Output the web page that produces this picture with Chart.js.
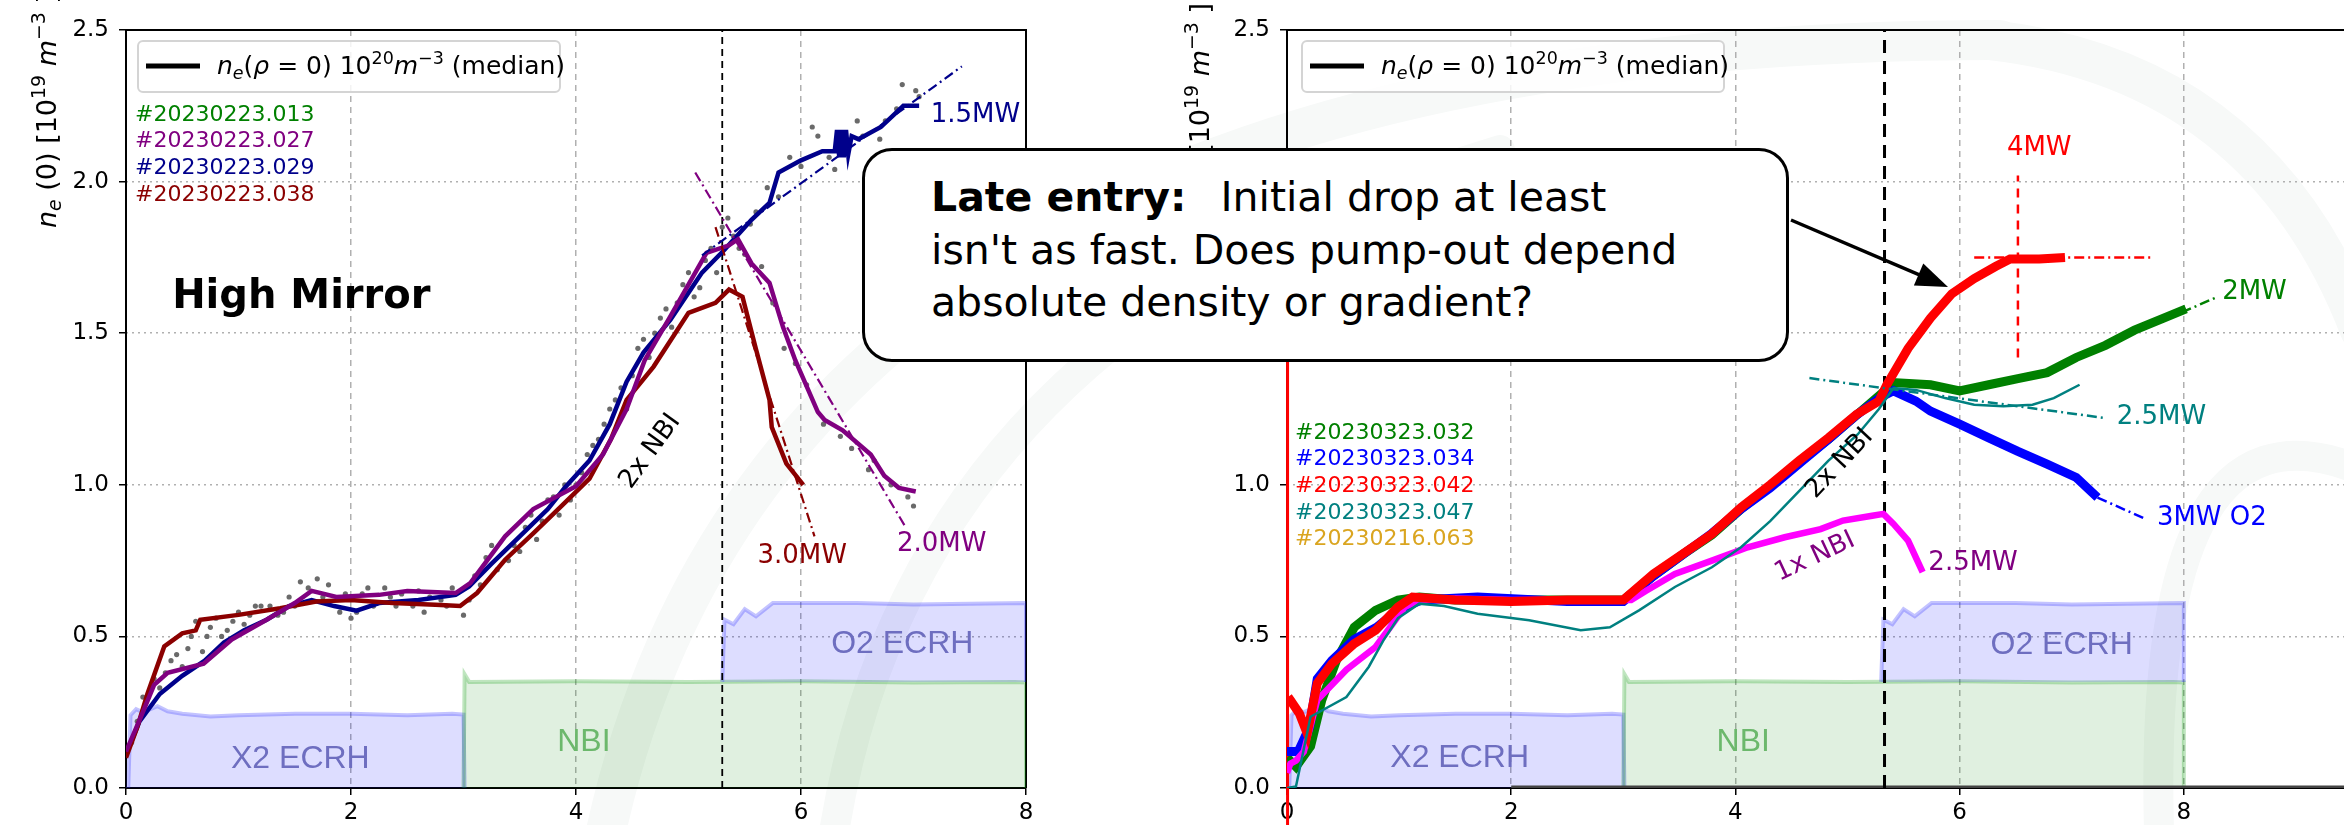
<!DOCTYPE html>
<html>
<head>
<meta charset="utf-8">
<script src="https://cdn.jsdelivr.net/npm/chart.js@4.4.1/dist/chart.umd.min.js"></script>
<style>
  html, body { margin: 0; padding: 0; background: #fff; width: 2344px; height: 825px; overflow: hidden; position: relative; }
  canvas { position: absolute; top: 0; }
  #bg { left: 0; }
  #leftPanel { left: 0; }
  #rightPanel { left: 1140px; }
  #note {
    position: absolute; left: 862px; top: 148px; width: 927px; height: 214px; box-sizing: border-box;
    border: 3.5px solid #000; border-radius: 30px; background: #fff; z-index: 2;
    font: 41px "DejaVu Sans", sans-serif; line-height: 52.5px; color: #000;
    padding: 20px 0 0 66px; white-space: nowrap;
  }
  #note span { margin-left: 34px; }
</style>
</head>
<body>
<canvas id="bg" width="2344" height="825"></canvas>
<canvas id="leftPanel" width="1060" height="825"></canvas>
<canvas id="rightPanel" width="1222" height="825"></canvas>
<div id="note"><b>Late entry:</b><span>Initial drop at least</span><br>isn't as fast. Does pump-out depend<br>absolute density or gradient?</div>

<script>
// ---------- axes ----------
const xTicks = [0, 2, 4, 6, 8];
const yTicks = [0, 0.5, 1.0, 1.5, 2.0, 2.5];

// ---------- heating programme (same in both panels) ----------
const powerX2 = [[0, 0], [0.02, 0], [0.04, 0.24], [0.09, 0.26], [0.15, 0.25], [0.28, 0.27], [0.37, 0.253], [0.5, 0.245], [0.75, 0.236], [1.0, 0.24], [1.5, 0.245], [2.0, 0.245], [2.5, 0.24], [2.9, 0.245], [3.0, 0.242], [3.01, 0]];
const powerNbi = [[3.0, 0], [3.01, 0.375], [3.05, 0.35], [4.0, 0.352], [5.0, 0.35], [6.0, 0.352], [7.0, 0.348], [7.9, 0.35], [8.0, 0.348], [8.0, 0]];
const powerO2 = [[5.3, 0.35], [5.32, 0.555], [5.4, 0.54], [5.5, 0.59], [5.6, 0.566], [5.75, 0.61], [6.5, 0.61], [7.0, 0.605], [8.0, 0.61], [8.0, 0.35]];

// ---------- left panel: high mirror shots ----------
const leftSwitch = 5.3;
const leftShots = ['#20230223.013', '#20230223.027', '#20230223.029', '#20230223.038'];
const leftShotColors = ['#008000', '#800080', '#00008b', '#8b0000'];

const shot029 = [[0, 0.11], [0.12, 0.22], [0.3, 0.31], [0.5, 0.37], [0.7, 0.42], [0.87, 0.48], [1.05, 0.52], [1.25, 0.555], [1.45, 0.6], [1.65, 0.62], [1.85, 0.6], [2.05, 0.585], [2.25, 0.61], [2.6, 0.62], [2.93, 0.637], [3.05, 0.665], [3.25, 0.74], [3.5, 0.83], [3.75, 0.92], [3.9, 0.99], [4.12, 1.08], [4.3, 1.2], [4.45, 1.34], [4.6, 1.436], [4.84, 1.545], [5.12, 1.70], [5.32, 1.775], [5.56, 1.874], [5.72, 1.93], [5.8, 2.03], [6.0, 2.07], [6.19, 2.10], [6.3, 2.10], [6.32, 2.17], [6.34, 2.08], [6.36, 2.17], [6.38, 2.08], [6.40, 2.17], [6.42, 2.09], [6.45, 2.15], [6.51, 2.14], [6.71, 2.18], [6.91, 2.25], [7.05, 2.25]];
const shot027 = [[0, 0.12], [0.15, 0.25], [0.25, 0.34], [0.37, 0.38], [0.69, 0.41], [0.94, 0.49], [1.25, 0.555], [1.5, 0.61], [1.65, 0.65], [1.87, 0.63], [2.25, 0.637], [2.5, 0.65], [2.93, 0.643], [3.06, 0.676], [3.37, 0.83], [3.62, 0.92], [4.0, 0.995], [4.24, 1.10], [4.45, 1.25], [4.61, 1.41], [4.84, 1.556], [5.16, 1.765], [5.36, 1.79], [5.44, 1.81], [5.56, 1.73], [5.72, 1.666], [5.84, 1.52], [5.95, 1.41], [6.15, 1.24], [6.21, 1.214], [6.37, 1.18], [6.62, 1.10], [6.74, 1.03], [6.87, 0.99], [7.02, 0.978]];
const shot038 = [[0, 0.10], [0.1, 0.2], [0.19, 0.31], [0.34, 0.467], [0.5, 0.51], [0.62, 0.52], [0.66, 0.555], [1.0, 0.571], [1.37, 0.593], [1.69, 0.615], [2.0, 0.62], [2.37, 0.61], [2.75, 0.604], [2.97, 0.60], [3.12, 0.643], [3.37, 0.753], [3.62, 0.84], [3.87, 0.93], [4.12, 1.02], [4.31, 1.15], [4.45, 1.28], [4.69, 1.39], [5.0, 1.567], [5.24, 1.60], [5.36, 1.644], [5.48, 1.62], [5.6, 1.447], [5.72, 1.28], [5.74, 1.19], [5.87, 1.07], [6.02, 1.0]];
const rawSamples = [[0.05, 0.15], [0.1, 0.22], [0.15, 0.3], [0.2, 0.3], [0.25, 0.36], [0.3, 0.33], [0.35, 0.38], [0.4, 0.42], [0.45, 0.44], [0.5, 0.4], [0.55, 0.46], [0.58, 0.5], [0.62, 0.55], [0.68, 0.45], [0.72, 0.5], [0.75, 0.53], [0.8, 0.56], [0.85, 0.5], [0.9, 0.52], [0.95, 0.55], [1.0, 0.58], [1.05, 0.54], [1.1, 0.57], [1.15, 0.6], [1.2, 0.6], [1.28, 0.6], [1.35, 0.57], [1.4, 0.58], [1.45, 0.63], [1.5, 0.6], [1.55, 0.68], [1.62, 0.66], [1.7, 0.69], [1.75, 0.63], [1.8, 0.67], [1.9, 0.58], [1.95, 0.64], [2.0, 0.56], [2.05, 0.58], [2.1, 0.64], [2.15, 0.66], [2.2, 0.6], [2.3, 0.66], [2.35, 0.63], [2.4, 0.6], [2.45, 0.64], [2.55, 0.6], [2.6, 0.65], [2.65, 0.58], [2.7, 0.63], [2.8, 0.62], [2.85, 0.6], [2.9, 0.66], [3.0, 0.57], [3.05, 0.62], [3.1, 0.7], [3.15, 0.67], [3.2, 0.76], [3.25, 0.8], [3.3, 0.72], [3.4, 0.75], [3.45, 0.8], [3.5, 0.78], [3.55, 0.86], [3.6, 0.9], [3.65, 0.82], [3.7, 0.88], [3.75, 0.95], [3.8, 0.96], [3.85, 0.9], [3.9, 1.0], [3.95, 0.95], [4.0, 1.0], [4.05, 1.04], [4.1, 1.1], [4.15, 1.13], [4.2, 1.15], [4.25, 1.2], [4.3, 1.25], [4.35, 1.28], [4.4, 1.32], [4.45, 1.25], [4.5, 1.36], [4.55, 1.45], [4.6, 1.48], [4.65, 1.42], [4.7, 1.5], [4.75, 1.55], [4.8, 1.58], [4.85, 1.52], [4.9, 1.6], [4.95, 1.66], [5.0, 1.7], [5.05, 1.62], [5.1, 1.65], [5.15, 1.74], [5.2, 1.78], [5.25, 1.7], [5.3, 1.85], [5.35, 1.88], [5.4, 1.82], [5.45, 1.78], [5.5, 1.76], [5.55, 1.86], [5.6, 1.9], [5.65, 1.72], [5.7, 1.98], [5.75, 1.6], [5.8, 1.95], [5.85, 1.45], [5.9, 2.08], [5.95, 1.4], [6.0, 2.05], [6.05, 1.33], [6.1, 2.18], [6.15, 2.15], [6.2, 1.2], [6.25, 2.08], [6.3, 2.04], [6.35, 1.16], [6.45, 1.12], [6.5, 2.2], [6.55, 2.15], [6.6, 1.05], [6.65, 1.08], [6.7, 2.14], [6.75, 2.2], [6.8, 1.0], [6.85, 2.24], [6.9, 2.32], [6.95, 0.96], [7.0, 0.93], [7.02, 2.3], [7.05, 2.28]];
const fit029 = [[5.12, 1.757], [7.43, 2.38]];
const fit027 = [[5.06, 2.03], [6.93, 0.86]];
const fit038 = [[5.24, 1.85], [6.12, 0.83]];

// ---------- right panel ----------
const rightSwitch = 5.33;
const rightShots = ['#20230323.032', '#20230323.034', '#20230323.042', '#20230323.047', '#20230216.063'];
const rightShotColors = ['#008000', '#0000ff', '#ff0000', '#008080', '#daa520'];

const shot032 = [[0, 0.1], [0.08, 0.07], [0.21, 0.137], [0.31, 0.29], [0.44, 0.42], [0.6, 0.53], [0.79, 0.586], [0.99, 0.62], [1.18, 0.63], [1.5, 0.62], [2.0, 0.62], [2.5, 0.62], [3.0, 0.62], [3.27, 0.70], [3.53, 0.77], [3.79, 0.835], [4.05, 0.92], [4.31, 0.995], [4.57, 1.075], [4.83, 1.15], [5.08, 1.23], [5.3, 1.3], [5.41, 1.337], [5.74, 1.33], [6.0, 1.31], [6.26, 1.33], [6.52, 1.35], [6.78, 1.37], [7.04, 1.42], [7.3, 1.46], [7.56, 1.51], [7.82, 1.55], [8.02, 1.58]];
const shot034 = [[0, 0.12], [0.1, 0.12], [0.2, 0.2], [0.27, 0.36], [0.4, 0.42], [0.6, 0.49], [0.8, 0.53], [1.0, 0.59], [1.2, 0.62], [1.7, 0.63], [2.5, 0.615], [3.0, 0.615], [3.27, 0.70], [3.53, 0.77], [3.79, 0.84], [4.05, 0.92], [4.31, 0.99], [4.57, 1.07], [4.83, 1.15], [5.08, 1.23], [5.3, 1.29], [5.41, 1.31], [5.61, 1.276], [5.74, 1.243], [6.0, 1.2], [6.26, 1.155], [6.52, 1.11], [6.78, 1.068], [7.04, 1.024], [7.23, 0.958]];
const shot042 = [[0.01, 0.3], [0.03, 0.29], [0.11, 0.246], [0.18, 0.18], [0.27, 0.345], [0.4, 0.41], [0.6, 0.476], [0.79, 0.52], [0.99, 0.597], [1.12, 0.63], [1.5, 0.62], [2.0, 0.615], [2.5, 0.62], [3.0, 0.62], [3.27, 0.706], [3.53, 0.772], [3.79, 0.838], [4.05, 0.925], [4.31, 1.0], [4.57, 1.08], [4.83, 1.155], [5.08, 1.232], [5.28, 1.276], [5.35, 1.33], [5.54, 1.45], [5.74, 1.55], [5.93, 1.63], [6.13, 1.68], [6.32, 1.72], [6.45, 1.745], [6.71, 1.745], [6.94, 1.75]];
const shot042Start = [[0.005, -0.15], [0.005, 2.0]];
const shot047 = [[0, 0], [0.08, 0.005], [0.21, 0.235], [0.53, 0.30], [0.73, 0.40], [0.86, 0.487], [0.99, 0.56], [1.18, 0.608], [1.4, 0.6], [1.7, 0.575], [2.16, 0.553], [2.62, 0.52], [2.88, 0.53], [3.14, 0.586], [3.46, 0.663], [3.79, 0.728], [4.05, 0.794], [4.31, 0.88], [4.57, 0.98], [4.83, 1.08], [5.09, 1.166], [5.28, 1.25], [5.41, 1.319], [5.61, 1.313], [5.87, 1.286], [6.13, 1.264], [6.39, 1.259], [6.65, 1.264], [6.84, 1.286], [7.07, 1.33]];
const shot063 = [[0, 0.05], [0.03, 0.08], [0.08, 0.09], [0.15, 0.12], [0.27, 0.29], [0.53, 0.39], [0.79, 0.465], [0.92, 0.53], [1.05, 0.597], [1.18, 0.62], [1.5, 0.625], [2.0, 0.62], [2.5, 0.62], [3.07, 0.62], [3.2, 0.65], [3.46, 0.706], [3.79, 0.75], [4.11, 0.794], [4.44, 0.827], [4.76, 0.854], [4.96, 0.882], [5.22, 0.898], [5.32, 0.904], [5.41, 0.871], [5.54, 0.816], [5.67, 0.712]];
const fit042Level = [[6.13, 1.75], [7.72, 1.75]];
const fit042Mark = [[6.52, 1.42], [6.52, 2.02]];
const fit032 = [[7.0, 1.41], [8.3, 1.62]];
const fit047 = [[4.66, 1.352], [7.3, 1.22]];
const fit034 = [[7.23, 0.958], [7.66, 0.887]];
const baseline = [[2.0, 0], [9.6, 0]];

// ---------- helpers ----------
const FONT = '"DejaVu Sans"';
const ecrhText = '#6e6ec0';
const nbiText = '#6cb86c';
const dashDot = [10, 4, 2, 4];
const pts = a => a.map(([x, y]) => ({ x, y }));
const line = (data, color, width, extra = {}) => ({
  data: pts(data), borderColor: color, borderWidth: width, pointRadius: 0, showLine: true, fill: false, ...extra
});
const vline = (x, color, width, dash) => line([[x, 0], [x, 2.5]], color, width, { borderDash: dash });

const powerSets = () => [
  line(powerO2, 'rgba(40,40,255,0.28)', 4, { fill: { value: 0.35 }, backgroundColor: 'rgba(0,0,255,0.135)' }),
  line(powerNbi, 'rgba(0,150,0,0.25)', 4, { fill: 'origin', backgroundColor: 'rgba(0,128,0,0.12)' }),
  line(powerX2, 'rgba(40,40,255,0.28)', 4, { fill: 'origin', backgroundColor: 'rgba(0,0,255,0.135)' })
];

const scales = (xMax, yWidth) => ({
  x: {
    type: 'linear', min: 0, max: xMax,
    afterBuildTicks: s => { s.ticks = xTicks.map(v => ({ value: v })); },
    afterFit: s => { s.height = 37; },
    ticks: { font: { family: 'DejaVu Sans', size: 23 }, color: '#000', padding: 4, maxRotation: 0, autoSkip: false, callback: v => String(v) },
    grid: { color: '#b0b0b0', lineWidth: 1.5, borderDash: [6, 5], tickColor: '#000', tickLength: 7, tickWidth: 1.5, tickBorderDash: [] },
    border: { display: false, dash: [6, 5] }
  },
  y: {
    min: 0, max: 2.5,
    afterBuildTicks: s => { s.ticks = yTicks.map(v => ({ value: v })); },
    afterFit: s => { s.width = yWidth; },
    ticks: { font: { family: 'DejaVu Sans', size: 23 }, color: '#000', padding: 10, callback: v => v.toFixed(1) },
    grid: { color: '#b0b0b0', lineWidth: 1.5, borderDash: [2, 4], tickColor: '#000', tickLength: 7, tickWidth: 1.5, tickBorderDash: [] },
    border: { display: false, dash: [2, 4] }
  }
});

// text with italic / sub / superscript pieces, laid out left to right
function richText(ctx, x, y, parts, size) {
  let cx = x;
  parts.forEach(([t, st = '']) => {
    const small = st.includes('sub') || st.includes('sup');
    const fs = small ? size * 0.7 : size;
    ctx.font = `${st.startsWith('i') ? 'italic ' : ''}${fs}px ${FONT}`;
    const dy = st.includes('sub') ? size * 0.2 : st.includes('sup') ? -size * 0.42 : 0;
    ctx.fillText(t, cx, y + dy);
    cx += ctx.measureText(t).width;
  });
}
const legendParts = [['n', 'i'], ['e', 'isub'], ['(', ''], ['ρ', 'i'], [' = 0) 10', ''], ['20', 'sup'], ['m', 'i'], ['−3', 'sup'], [' (median)', '']];
const titleParts = [['n', 'i'], ['e', 'isub'], [' (0) [10', ''], ['19', 'sup'], [' m', 'i'], ['−3', 'sup'], [' ]', '']];

function drawNote(chart, n) {
  const { ctx, scales: { x, y } } = chart;
  ctx.save();
  ctx.translate(x.getPixelForValue(n.x), y.getPixelForValue(n.y));
  if (n.rot) ctx.rotate(n.rot * Math.PI / 180);
  ctx.font = `${n.bold ? 'bold ' : ''}${n.size}px ${n.family || FONT}`;
  ctx.fillStyle = n.color;
  ctx.textAlign = n.align || 'center';
  ctx.textBaseline = n.base || 'middle';
  ctx.fillText(n.text, 0, 0);
  ctx.restore();
}

// frame, legend box, shot list, axis title and annotations of one panel
const panelDecor = cfg => ({
  id: 'panelDecor',
  beforeDatasetsDraw(chart) {
    const { ctx, chartArea: a } = chart;
    ctx.save();
    ctx.strokeStyle = '#000';
    ctx.lineWidth = 2;
    ctx.beginPath();
    ctx.moveTo(a.left, a.bottom); ctx.lineTo(a.left, a.top); ctx.lineTo(a.right, a.top);
    if (cfg.closed) ctx.lineTo(a.right, a.bottom);
    ctx.moveTo(a.left, a.bottom); ctx.lineTo(a.right, a.bottom);
    ctx.stroke();
    ctx.restore();
  },
  afterDatasetsDraw(chart) {
    const { ctx, chartArea: a } = chart;
    cfg.notes.forEach(n => drawNote(chart, n));

    ctx.save();
    // legend box
    const lx = a.left + cfg.legendDx, ly = a.top + 11;
    ctx.beginPath();
    ctx.roundRect(lx, ly, 422, 51, 5);
    ctx.fillStyle = 'rgba(255,255,255,0.85)';
    ctx.fill();
    ctx.strokeStyle = '#d4d4d4';
    ctx.lineWidth = 2;
    ctx.stroke();
    ctx.beginPath();
    ctx.moveTo(lx + 8, ly + 25); ctx.lineTo(lx + 62, ly + 25);
    ctx.strokeStyle = '#000';
    ctx.lineWidth = 5;
    ctx.stroke();
    ctx.fillStyle = '#000';
    ctx.textBaseline = 'alphabetic';
    ctx.textAlign = 'left';
    richText(ctx, lx + 79, ly + 33, legendParts, 25);

    // shot numbers
    ctx.font = `22px ${FONT}`;
    ctx.textBaseline = 'middle';
    cfg.shots.forEach((s, i) => {
      ctx.fillStyle = cfg.shotColors[i];
      ctx.fillText(s, cfg.shotX, cfg.shotY + i * 26.6);
    });

    // y axis title, written bottom to top
    ctx.translate(cfg.titleX, cfg.titleY);
    ctx.rotate(-Math.PI / 2);
    ctx.fillStyle = '#000';
    ctx.textBaseline = 'alphabetic';
    richText(ctx, 0, 0, titleParts, 27);
    ctx.restore();

    if (cfg.arrow) {
      const [x0, y0, x1, y1] = cfg.arrow;
      const ang = Math.atan2(y1 - y0, x1 - x0);
      ctx.save();
      ctx.strokeStyle = '#000';
      ctx.fillStyle = '#000';
      ctx.lineWidth = 3.5;
      ctx.beginPath();
      ctx.moveTo(x0, y0);
      ctx.lineTo(x1 - 26 * Math.cos(ang), y1 - 26 * Math.sin(ang));
      ctx.stroke();
      ctx.translate(x1, y1);
      ctx.rotate(ang);
      ctx.beginPath();
      ctx.moveTo(0, 0); ctx.lineTo(-32, -12); ctx.lineTo(-32, 12); ctx.closePath();
      ctx.fill();
      ctx.restore();
    }
  }
});

const baseOptions = (xMax, yWidth, padRight) => ({
  responsive: false, animation: false, devicePixelRatio: 1, events: [],
  layout: { padding: { top: 30, right: padRight, bottom: 0, left: 0 } },
  plugins: { legend: { display: false }, tooltip: { enabled: false } },
  scales: scales(xMax, yWidth)
});

// ---------- faint background logo ----------
(() => {
  const c = document.getElementById('bg').getContext('2d');
  c.strokeStyle = '#f7f9f8';
  c.lineCap = 'round';
  c.lineWidth = 40;
  c.beginPath(); c.moveTo(600, 860); c.quadraticCurveTo(760, 40, 2000, 40); c.stroke();
  c.beginPath(); c.moveTo(1990, 40); c.quadraticCurveTo(2260, 70, 2360, 330); c.stroke();
  c.lineWidth = 30;
  c.beginPath(); c.moveTo(830, 860); c.quadraticCurveTo(900, 330, 1500, 150); c.stroke();
  c.beginPath(); c.moveTo(2160, 860); c.quadraticCurveTo(2140, 380, 2360, 470); c.stroke();
})();

// ---------- left panel ----------
new Chart(document.getElementById('leftPanel'), {
  type: 'scatter',
  data: {
    datasets: [
      line(fit029, '#00008b', 2.2, { borderDash: dashDot }),
      line(fit027, '#800080', 2.2, { borderDash: dashDot }),
      line(fit038, '#8b0000', 2.2, { borderDash: dashDot }),
      line(shot027, '#800080', 4.5),
      line(shot038, '#8b0000', 4.5),
      line(shot029, '#00008b', 4.5),
      { data: pts(rawSamples), pointRadius: 2.6, pointBackgroundColor: '#6a6a6a', pointBorderWidth: 0, showLine: false },
      vline(leftSwitch, '#000', 1.8, [7, 5]),
      ...powerSets()
    ]
  },
  options: baseOptions(8, 126, 34),
  plugins: [panelDecor({
    closed: true, legendDx: 12, shots: leftShots, shotColors: leftShotColors, shotX: 135, shotY: 115,
    titleX: 56, titleY: 228,
    notes: [
      { text: 'High Mirror', x: 0.41, y: 1.583, size: 40, bold: true, color: '#000', align: 'left', base: 'alphabetic' },
      { text: '2x NBI', x: 4.66, y: 1.11, size: 26, color: '#000', rot: -54 },
      { text: '3.0MW', x: 6.01, y: 0.765, size: 26, color: '#8b0000' },
      { text: '2.0MW', x: 7.25, y: 0.805, size: 26, color: '#800080' },
      { text: '1.5MW', x: 7.55, y: 2.22, size: 26, color: '#00008b' },
      { text: 'X2 ECRH', x: 1.55, y: 0.095, size: 32, color: ecrhText, family: '"Liberation Sans"' },
      { text: 'NBI', x: 4.07, y: 0.15, size: 32, color: nbiText, family: '"Liberation Sans"' },
      { text: 'O2 ECRH', x: 6.9, y: 0.475, size: 32, color: ecrhText, family: '"Liberation Sans"' }
    ]
  })]
});

// ---------- right panel ----------
new Chart(document.getElementById('rightPanel'), {
  type: 'scatter',
  data: {
    datasets: [
      line(fit042Level, '#ff0000', 2.5, { borderDash: dashDot }),
      line(fit042Mark, '#ff0000', 2.5, { borderDash: [9, 7] }),
      line(fit032, '#008000', 2.5, { borderDash: dashDot }),
      line(fit047, '#008080', 2.5, { borderDash: dashDot }),
      line(fit034, '#0000ff', 2.5, { borderDash: dashDot }),
      line(shot047, '#008080', 2.5),
      line(shot042, '#ff0000', 9),
      line(shot063, '#ff00ff', 6.5),
      line(shot034, '#0000ff', 9),
      line(shot032, '#008000', 9),
      line(shot042Start, '#ff0000', 3, { clip: 40 }),
      vline(rightSwitch, '#000', 3, [13, 8]),
      line(baseline, '#444444', 5),
      ...powerSets()
    ]
  },
  options: baseOptions(9.5, 147, 10),
  plugins: [panelDecor({
    closed: false, legendDx: 15, shots: rightShots, shotColors: rightShotColors, shotX: 155, shotY: 433,
    titleX: 69, titleY: 238,
    arrow: [651, 220, 808, 287],
    notes: [
      { text: '4MW', x: 6.71, y: 2.11, size: 26, color: '#ff0000' },
      { text: '2MW', x: 8.63, y: 1.636, size: 26, color: '#008000' },
      { text: '2.5MW', x: 7.8, y: 1.224, size: 26, color: '#008080' },
      { text: '3MW O2', x: 8.25, y: 0.89, size: 26, color: '#0000ff' },
      { text: '2.5MW', x: 6.12, y: 0.742, size: 26, color: '#800080' },
      { text: '1x NBI', x: 4.71, y: 0.762, size: 26, color: '#800080', rot: -25 },
      { text: '2x NBI', x: 4.93, y: 1.07, size: 26, color: '#000', rot: -47 },
      { text: 'X2 ECRH', x: 1.54, y: 0.1, size: 32, color: ecrhText, family: '"Liberation Sans"' },
      { text: 'NBI', x: 4.07, y: 0.15, size: 32, color: nbiText, family: '"Liberation Sans"' },
      { text: 'O2 ECRH', x: 6.91, y: 0.47, size: 32, color: ecrhText, family: '"Liberation Sans"' }
    ]
  })]
});
</script>
</body>
</html>
